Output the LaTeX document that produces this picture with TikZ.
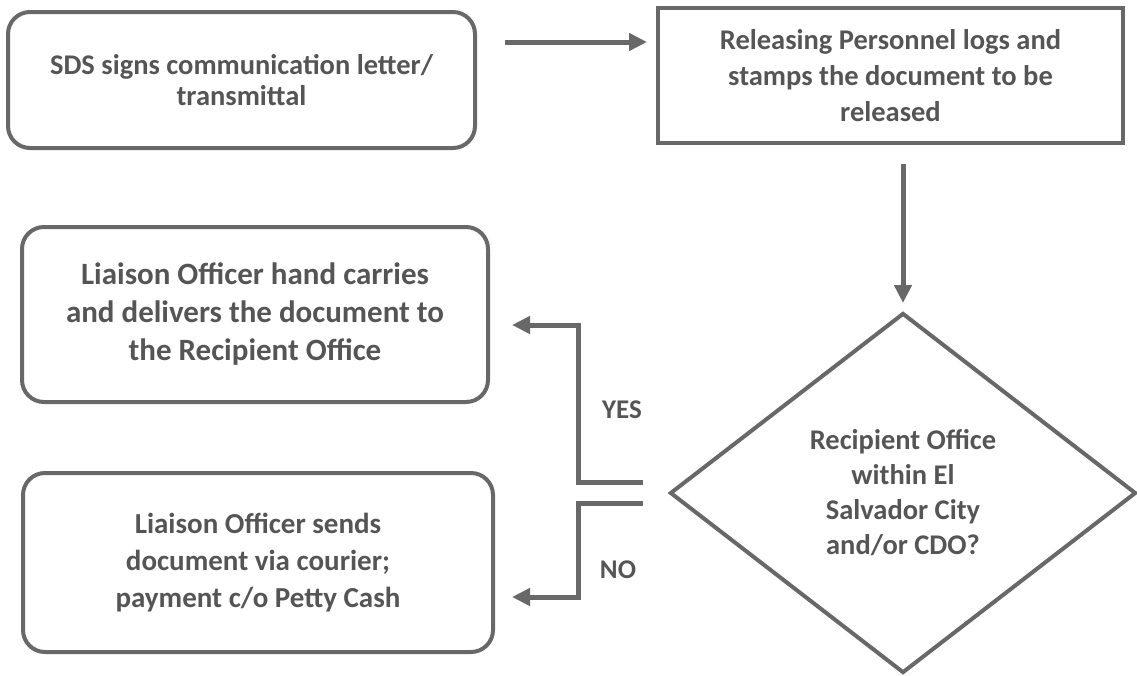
\documentclass[tikz,border=0pt]{standalone}
\usepackage{fontspec}
\setmainfont{Carlito}
\usetikzlibrary{shapes.geometric,arrows.meta,calc}
\definecolor{ln}{HTML}{686868}
\definecolor{tx}{HTML}{555555}
\tikzset{
  base/.style={draw=ln, line width=4pt, text=tx, align=center, inner sep=0pt},
  rbox/.style={base, rounded corners=22pt},
  sbox/.style={base},
  dec/.style={base, diamond},
  arr/.style={draw=ln, line width=5pt, -{Triangle[length=18pt,width=17pt]}},
  lbl/.style={text=tx, font=\bfseries\fontsize{27}{30}\selectfont, inner sep=0pt}
}
\begin{document}
\begin{tikzpicture}[x=1pt,y=-1pt]
\useasboundingbox (0,0) rectangle (1137,675);
\node[rbox, minimum width=467pt, minimum height=136pt, font=\bfseries\fontsize{28.5}{31}\selectfont] (b1) at (241.5,80) {SDS signs communication letter/\\transmittal};
\node[sbox, minimum width=465pt, minimum height=135pt, font=\bfseries\fontsize{28.5}{36}\selectfont] (b2) at (890.5,75.5) {Releasing Personnel logs and\\stamps the document to be\\released};
\node[rbox, minimum width=466pt, minimum height=175pt, font=\bfseries\fontsize{31}{38}\selectfont] (b3) at (255,314.5) {Liaison Officer hand carries\\and delivers the document to\\the Recipient Office};
\node[rbox, minimum width=470pt, minimum height=179pt, font=\bfseries\fontsize{29}{37}\selectfont] (b4) at (258,562.5) {Liaison Officer sends\\document via courier;\\payment c/o Petty Cash};
\node[dec, minimum width=466pt, minimum height=360pt, font=\bfseries\fontsize{28.5}{35}\selectfont] (d) at (903,493) {Recipient Office\\within El\\Salvador City\\and/or CDO?};
\coordinate (a1) at (505,42);
\draw[arr, shorten >=9pt] (a1) -- (a1 -| b2.west);
\draw[arr, shorten <=19pt, shorten >=8pt] (d.north |- b2.south) -- (d.north);
\draw[arr, shorten >=22pt] ($(d.west)+(-25,-11)$) -- ++(-65,0) |- ($(b3.east)+(0,10.5)$);
\draw[arr, shorten >=17pt] ($(d.west)+(-25,10)$) -- ++(-65,0) |- ($(b4.east)+(0,34.5)$);
\node[lbl] (yes) at (622,410) {YES};
\node[lbl] (no) at (618,570) {NO};
\end{tikzpicture}
\end{document}
